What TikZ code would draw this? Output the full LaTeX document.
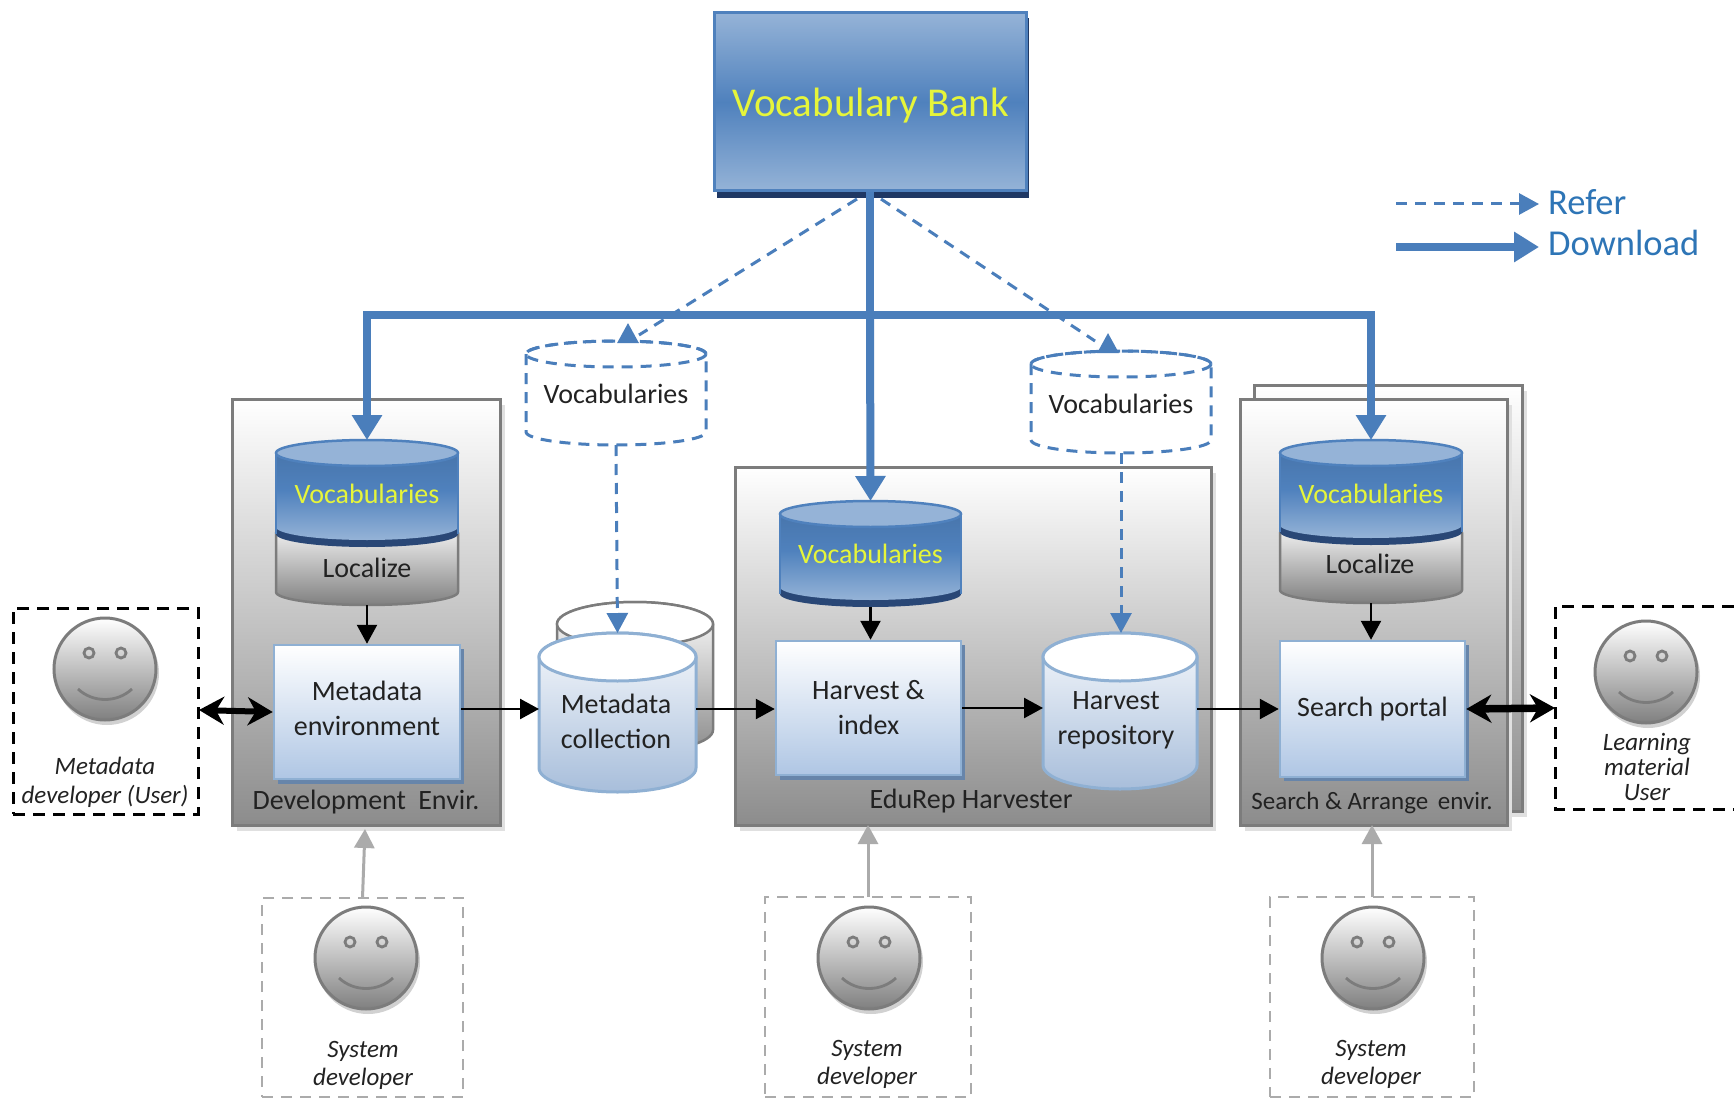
\documentclass[tikz,border=0pt]{standalone}
\usepackage{fontspec}
\setmainfont{Carlito}
\usetikzlibrary{arrows.meta,fit,calc}
\definecolor{bankblue}{HTML}{4F81BD}
\definecolor{banklight}{HTML}{95B3D7}
\definecolor{navy}{HTML}{1F3864}
\definecolor{linkblue}{HTML}{4A7EBB}
\definecolor{legendblue}{HTML}{2E75B6}
\definecolor{voctext}{HTML}{E6F53A}
\definecolor{ink}{HTML}{222222}
\definecolor{frame}{HTML}{7C7C7C}
\definecolor{paleblue}{HTML}{AFC6E4}
\definecolor{edgeblue}{HTML}{8FB0D3}
\definecolor{dropblue}{HTML}{6785AA}
\definecolor{devgray}{HTML}{ABABAB}
\tikzset{
  fnt/.style={font=\fontsize{#1}{35}\selectfont},
  txt/.style={fnt=28,text=ink,align=center,inner sep=0pt},
  voc/.style={fnt=28,text=voctext,inner sep=0pt},
  itxt/.style={font=\fontsize{25}{28}\selectfont\itshape,text=ink,align=center,inner sep=0pt},
  container/.style={draw=frame,line width=3pt,top color=white,bottom color=black!45},
  containerdrop/.style={fill=black!12},
  mbox/.style={draw=edgeblue,line width=2.5pt,top color=white,bottom color=paleblue,
    fnt=28,text=ink,align=center,inner sep=0pt},
  bankbox/.style={draw=bankblue,line width=3pt,top color=banklight,bottom color=banklight,middle color=bankblue,inner sep=0pt},
  banktext/.style={font=\fontsize{41}{48}\selectfont,text=voctext,inner sep=0pt},
  anchorbox/.style={inner sep=0pt,outer sep=0pt},
  vocbody/.style={top color=bankblue!88!black,bottom color=banklight,middle color=bankblue},
  voctop/.style={draw=bankblue,line width=2.5pt,fill=banklight},
  graybody/.style={draw=frame,line width=2.5pt,top color=white,bottom color=black!50},
  bluebody/.style={draw=edgeblue,line width=3pt,top color=white!90!paleblue,bottom color=paleblue!96!black},
  bluetop/.style={draw=edgeblue,line width=3pt,fill=white},
  backbody/.style={draw=frame,line width=2.5pt,top color=white,bottom color=black!45},
  backtop/.style={draw=frame,line width=2.5pt,fill=white},
  refline/.style={draw=linkblue,line width=3pt,dash pattern=on 11pt off 8pt},
  dlline/.style={draw=linkblue,line width=8pt,-{Triangle[length=25pt,width=29pt]},color=linkblue},
  flow/.style={draw=black,line width=2.5pt,-{Triangle[length=19pt,width=20pt]}},
  both/.style={draw=black,line width=6pt,{Stealth[length=25pt,width=28pt,inset=8pt]}-{Stealth[length=25pt,width=28pt,inset=8pt]}},
  uses/.style={draw=devgray,line width=3pt,-{Triangle[length=19pt,width=20pt]}},
  userframe/.style={draw=black,line width=3pt,dash pattern=on 12pt off 8pt},
  devframe/.style={draw=devgray,line width=2.8pt,dash pattern=on 11pt off 8pt},
  face/.style={circle,draw=frame,line width=3pt,top color=white,bottom color=black!50,minimum size=102pt,inner sep=0pt},
  facebit/.style={draw=frame,line width=2.8pt},
}
% cylinder: name, x1, ytop, x2, ybot, ry, body style, top style
\newcommand{\tank}[8]{%
  \pgfmathsetmacro{\tankrx}{(#4-#2)/2}%
  \pgfmathsetmacro{\tankxc}{(#4+#2)/2}%
  \pgfmathsetmacro{\tankyt}{#3+#6}%
  \pgfmathsetmacro{\tankyb}{#5-#6}%
  \path[#7] (#2,\tankyt) -- (#2,\tankyb) arc[start angle=180,end angle=0,x radius=\tankrx,y radius=#6]
     -- (#4,\tankyt) arc[start angle=0,end angle=-180,x radius=\tankrx,y radius=#6] -- cycle;
  \path[#8] (\tankxc,\tankyt) ellipse[x radius=\tankrx,y radius=#6];
  \node[anchorbox,fit={(#2,#3) (#4,#5)}] (#1) {};
}
% blue vocabulary cylinder with dark rim
\newcommand{\voctank}[6]{%
  \pgfmathsetmacro{\tankrx}{(#4-#2)/2}%
  \pgfmathsetmacro{\tankxc}{(#4+#2)/2}%
  \pgfmathsetmacro{\tankyt}{#3+13}%
  \pgfmathsetmacro{\tankyb}{#5-13}%
  \pgfmathsetmacro{\tankyc}{#5-20}%
  \fill[navy!80!bankblue] (#2,\tankyt) -- (#2,\tankyb) arc[start angle=180,end angle=0,x radius=\tankrx,y radius=13] -- (#4,\tankyt) -- cycle;
  \path[vocbody] (#2,\tankyt) -- (#2,\tankyc) arc[start angle=180,end angle=0,x radius=\tankrx,y radius=13] -- (#4,\tankyt) arc[start angle=0,end angle=-180,x radius=\tankrx,y radius=13] -- cycle;
  \draw[bankblue,line width=2pt] (#2,\tankyt) -- (#2,\tankyb) (#4,\tankyt) -- (#4,\tankyb);
  \path[voctop] (\tankxc,\tankyt) ellipse[x radius=\tankrx,y radius=13];
  \node[anchorbox,fit={(#2,#3) (#4,#5)}] (#1) {};
  \node[voc] (#1text) at (\tankxc,#6) {Vocabularies};
}
% dashed vocabulary cylinder
\newcommand{\dashtank}[6]{%
  \tank{#1}{#2}{#3}{#4}{#5}{13}{refline}{refline}
  \pgfmathsetmacro{\tankxc}{(#4+#2)/2}%
  \node[txt] (#1text) at (\tankxc,#6) {Vocabularies};
}
% smiley: name, x, y
\newcommand{\smiley}[3]{%
  \fill[black!18] (#2+2,#3+4) circle[radius=52];
  \node[face] (#1) at (#2,#3) {};
  \draw[facebit] (#2-16,#3-16) circle[radius=5];
  \draw[facebit] (#2+16,#3-16) circle[radius=5];
  \draw[facebit] (#2-27,#3+20) .. controls (#2-12,#3+34) and (#2+12,#3+34) .. (#2+27,#3+20);
}
\begin{document}
\begin{tikzpicture}[x=1pt,y=-1pt]
\useasboundingbox (0,0) rectangle (1734,1099);
\fill[white] (0,0) rectangle (1734,1099);

% vocabulary bank
\fill[navy] (717,18) rectangle (1029,198);
\node[bankbox,minimum width=312pt,minimum height=178pt] (bank) at (870,102) {};
\node[banktext] (banklabel) at (871,106) {Vocabulary Bank};

% legend
\node[font=\fontsize{36.5}{42}\selectfont,text=legendblue,anchor=west,inner sep=0pt] (refer) at (1548,202) {Refer};
\node[font=\fontsize{36.5}{42}\selectfont,text=legendblue,anchor=west,inner sep=0pt] (download) at (1548,243) {Download};
\coordinate (lega) at (1396,204);
\coordinate (legb) at (1396,247);
\coordinate (legc) at (1539,204);
\coordinate (legd) at (1539,247);
\draw[refline,-{Triangle[length=20pt,width=21pt]}] (lega) -- (legc);
\draw[dlline] (legb) -- (legd);

% containers
\fill[containerdrop] (237,405) rectangle (505,831);
\node[container,anchorbox,minimum width=268pt,minimum height=426pt] (devenv) at (366,612) {};
\fill[containerdrop] (740,473) rectangle (1216,831);
\node[container,anchorbox,minimum width=476pt,minimum height=358pt] (harvester) at (973,646) {};
\fill[containerdrop] (1259,391) rectangle (1527,817);
\node[container,anchorbox,minimum width=268pt,minimum height=426pt] (searchback) at (1388,598) {};
\fill[containerdrop] (1245,405) rectangle (1512,831);
\node[container,anchorbox,minimum width=267pt,minimum height=426pt] (searchenv) at (1373.5,612) {};
\node[txt] (devlabel) at (366,802) {Development\hspace{6pt} Envir.};
\node[txt] (harvlabel) at (971,801) {EduRep Harvester};
\node[txt,fnt=25] (searchlabel) at (1372,803) {Search \& Arrange\hspace{4pt} envir.};

% development environment
\tank{loc1}{276}{520}{458}{605}{13}{graybody}{draw=none}
\node[txt] (loc1text) at (367,568) {Localize};
\voctank{voc1}{276}{440}{458}{547}{494}
\fill[dropblue] (278,649) rectangle (464,784);
\node[mbox,minimum width=186pt,minimum height=134pt] (menv) at (367,712) {};
\node[txt] (menvtext) at (367,708) {Metadata\\environment};

% harvester
\voctank{voc2}{780}{501}{961}{607}{554}
\fill[dropblue] (780,645) rectangle (965,780);
\node[mbox,minimum width=185pt,minimum height=134pt] (harv) at (868.5,708) {Harvest \&\\index};
\tank{backc}{557}{602}{713}{752}{22}{backbody}{backtop}
\tank{coll}{539}{633}{696}{792}{24}{bluebody}{bluetop}
\node[txt] (colltext) at (616,721) {Metadata\\collection};
\tank{repo}{1043}{633}{1197}{789}{24}{bluebody}{bluetop}
\node[txt] (repotext) at (1116,720) {Harvest\\repository};

% search environment
\tank{loc2}{1280}{520}{1462}{603}{13}{graybody}{draw=none}
\node[txt] (loc2text) at (1370,564) {Localize};
\voctank{voc3}{1280}{440}{1462}{545}{494}
\fill[dropblue] (1284,645) rectangle (1469,781);
\node[mbox,minimum width=185pt,minimum height=136pt] (portal) at (1372.5,709) {Search portal};

% dashed vocabularies
\dashtank{vd1}{526}{341}{706}{445}{394}
\dashtank{vd2}{1031}{351}{1211}{453}{404}

% download lines
\coordinate (junction) at (870,315);
\draw[draw=linkblue,line width=8pt] (bank.south) -- (junction);
\draw[dlline] (junction) -- (voc2.north);
\draw[dlline] (junction) -| (voc1.north);
\draw[dlline] (junction) -| (voc3.north);

% refer lines
\coordinate (refla) at (857,199);
\coordinate (reflb) at (639,335);
\coordinate (refra) at (881,199);
\coordinate (refrb) at (1095,341);
\coordinate (vd1tip) at (628,323);
\coordinate (vd2tip) at (1108,333);
\draw[refline] (refla) -- (reflb);
\draw[refline] (refra) -- (refrb);
\draw[refline,-{Triangle[length=20pt,width=21pt]}] (vd1tip |- vd1.north) -- (vd1tip);
\draw[refline,-{Triangle[length=20pt,width=21pt]}] (vd2tip |- vd2.north) -- (vd2tip);
\draw[refline,-{Triangle[length=20pt,width=21pt]}] (vd1.south) -- (coll.north);
\draw[refline,-{Triangle[length=20pt,width=21pt]}] (vd2.south) -- (vd2.south |- repo.north);

% process flow
\draw[flow] (voc1.south |- loc1.south) -- (menv.north);
\draw[flow] (voc2.south) -- (voc2.south |- harv.north);
\draw[flow] (loc2.south) -- (loc2.south |- portal.north);
\draw[flow] (menv.east) ++(0,-3) coordinate (f1s) -- (f1s -| coll.west);
\draw[flow] (coll.east |- 0,709) coordinate (f2s) -- (f2s -| harv.west);
\draw[flow] (harv.east) -- (harv.east -| repo.west);
\draw[flow] (repo.east |- 0,709) coordinate (f3s) -- (f3s -| portal.west);

% users
\node[userframe,anchorbox,minimum width=185pt,minimum height=206pt] (dev) at (105.5,711) {};
\smiley{devface}{105}{669}
\node[itxt] (devtext) at (105,782) {Metadata\\[1pt]developer (User)};
\coordinate (lua) at (1734,606);
\coordinate (lub) at (1555,606);
\coordinate (luc) at (1555,809);
\coordinate (lud) at (1734,809);
\coordinate (lum) at (1555,708);
\coordinate (dum) at (199,710);
\draw[userframe] (lua) -- (lub) -- (luc) -- (lud);
\smiley{learnface}{1646}{672}
\node[itxt] (learntext) at (1647,767) {Learning\\[-3pt]material\\[-3pt]User};
\draw[both] (dum) -- (menv.west);
\draw[both,line width=7.5pt] (portal.east) -- (lum);

% system developers
\node[devframe,anchorbox,minimum width=201pt,minimum height=199pt] (sd1) at (362.5,997.5) {};
\node[devframe,anchorbox,minimum width=206pt,minimum height=200pt] (sd2) at (868,997) {};
\node[devframe,anchorbox,minimum width=204pt,minimum height=200pt] (sd3) at (1372,997) {};
\smiley{sd1face}{366}{958}
\smiley{sd2face}{869}{958}
\smiley{sd3face}{1373}{958}
\node[itxt] (sd1text) at (363,1065) {System\\developer};
\node[itxt] (sd2text) at (867,1064) {System\\developer};
\node[itxt] (sd3text) at (1371,1064) {System\\developer};
\draw[uses] (sd1.north) -- ($(devenv.south)+(-1,4)$);
\draw[uses] (sd2.north) -- (sd2.north |- harvester.south);
\draw[uses] (sd3.north) -- (sd3.north |- searchenv.south);
\end{tikzpicture}
\end{document}
